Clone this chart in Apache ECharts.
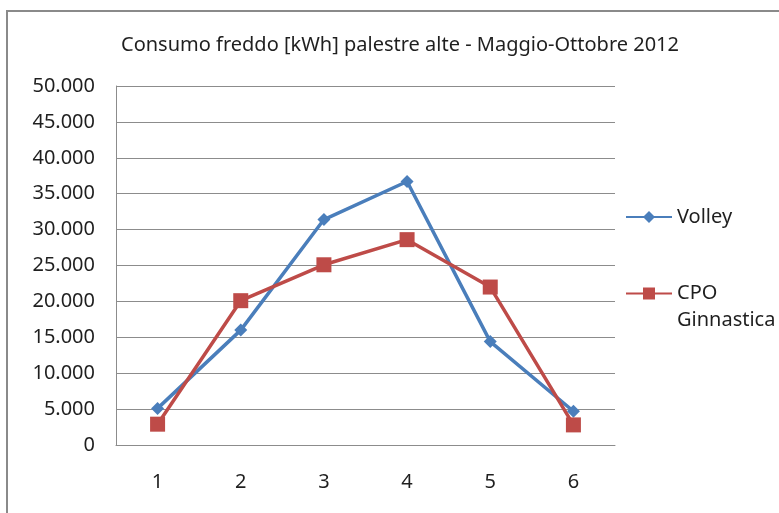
<!DOCTYPE html>
<html>
<head>
<meta charset="utf-8">
<script src="https://cdn.jsdelivr.net/npm/echarts@6/dist/echarts.min.js"></script>
<style>
  html, body { margin: 0; padding: 0; background: #fff; }
  #chart { width: 779px; height: 513px; }
</style>
</head>
<body>
<div id="chart"></div>
<script>
// mesi Maggio-Ottobre
var categorie = ['1', '2', '3', '4', '5', '6'];
var volley = [5100, 16000, 31400, 36700, 14400, 4700];
var cpoGinnastica = [2900, 20100, 25100, 28600, 22000, 2800];
var titolo = 'Consumo freddo [kWh] palestre alte - Maggio-Ottobre 2012';
var font = "'Noto Sans', sans-serif";
var testo = '#1f1f1f';

function puntiMigliaia(v) {
    return String(v).replace(/\B(?=(\d{3})+(?!\d))/g, '.');
}

var myChart = echarts.init(document.getElementById('chart'));

myChart.setOption({
    animation: false,
    backgroundColor: '#fff',
    title: {
        text: titolo,
        left: 400,
        textAlign: 'center',
        top: 35,
        padding: 0,
        textStyle: { fontFamily: font, fontSize: 20, fontWeight: 'normal', color: testo }
    },
    graphic: [{
        type: 'rect',
        shape: { x: 7, y: 11, width: 900, height: 700 },
        style: { fill: 'none', stroke: '#8a8a8a', lineWidth: 2 },
        silent: true
    }],
    legend: [{
        data: ['Volley'],
        orient: 'vertical',
        left: 625,
        top: 207,
        padding: 0,
        itemWidth: 46,
        itemHeight: 15,
        textStyle: { fontFamily: font, fontSize: 20, color: testo }
    }, {
        data: ['CPO Ginnastica'],
        orient: 'vertical',
        left: 625,
        top: 253,
        padding: 0,
        itemWidth: 46,
        itemHeight: 15,
        formatter: function (n) { return '\nCPO\nGinnastica'; },
        textStyle: { fontFamily: font, fontSize: 20, lineHeight: 27, color: testo }
    }],
    grid: { left: 116, right: 164, top: 86, bottom: 68 },
    xAxis: {
        type: 'category',
        data: categorie,
        boundaryGap: true,
        axisLine: { show: true, lineStyle: { color: '#8c8c8c', width: 1 } },
        axisTick: { show: false },
        axisLabel: { margin: 27, fontFamily: font, fontSize: 20, color: testo }
    },
    yAxis: {
        type: 'value',
        min: 0,
        max: 50000,
        interval: 5000,
        axisLine: { show: true, lineStyle: { color: '#8c8c8c', width: 1 } },
        axisTick: { show: false },
        splitLine: { lineStyle: { color: '#8c8c8c', width: 1 } },
        axisLabel: { margin: 21, fontFamily: font, fontSize: 20, color: testo, formatter: puntiMigliaia }
    },
    series: [{
        name: 'Volley',
        type: 'line',
        data: volley,
        symbol: 'diamond',
        symbolSize: 13,
        lineStyle: { color: '#4a7ebb', width: 3.5 },
        itemStyle: { color: '#4a7ebb' }
    }, {
        name: 'CPO Ginnastica',
        type: 'line',
        data: cpoGinnastica,
        symbol: 'rect',
        symbolSize: 15,
        lineStyle: { color: '#be4b48', width: 3.5 },
        itemStyle: { color: '#be4b48' }
    }]
});
</script>
</body>
</html>
